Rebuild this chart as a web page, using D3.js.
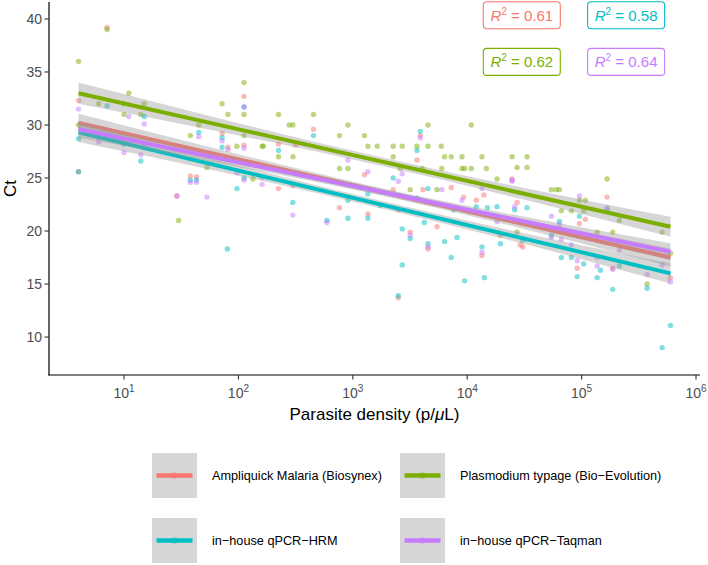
<!DOCTYPE html>
<html>
<head>
<meta charset="utf-8">
<script src="https://cdn.jsdelivr.net/npm/d3@7"></script>
<style>
  html, body { margin: 0; padding: 0; background: #fff; }
  svg { display: block; font-family: "Liberation Sans", Arial, Helvetica, sans-serif; }
</style>
</head>
<body>
<svg id="chart" width="708" height="565"></svg>
<script>
// ---------------- DATA ----------------
const seriesNames = ["Ampliquick Malaria (Biosynex)", "Plasmodium typage (Bio\u2212Evolution)", "in\u2212house qPCR\u2212HRM", "in\u2212house qPCR\u2212Taqman"];
const seriesColors = ["#F8766D", "#7CAE00", "#00BFC4", "#C77CFF"];
const r2Values = ["0.61", "0.62", "0.58", "0.64"];
const r2LabelX = [30000, 30000, 245000, 245000];
const r2LabelY = [40.35, 35.95, 40.35, 35.95];

// [parasite density (p/uL), Ct]
const ampliquickPts = [[4,32.3],[4,25.6],[7.1,39.2],[29,23.3],[38,25.2],[43,25.1],[72,29.2],[81,27.9],[112,32.7],[112,28.1],[224,28.2],[224,24.0],
  [300,24.3],[315,28.1],[453,29.6],[765,22.2],[1265,25.3],[1355,21.6],[2255,23.9],[2495,13.7],[2500,22.0],[3175,19.9],[3635,26.7],[3890,29.0],[4100,23.9],
  [4540,18.3],[5445,20.4],[7255,24.1],[9300,23.2],[12000,22.9],[13460,17.7],[14000,23.4],[19500,19.6],[24680,24.9],[27300,22.7],[29000,18.7],[30550,18.5],
  [91400,16.5],[95760,20.7],[107900,21.1],[167000,23.2],[187000,16.5],[598000,15.6]];
const plasmodiumPts = [[4,36.0],[4,30.0],[7.1,39.0],[6,32.0],[11,33.0],[10,32.0],[15,32.0],[10,31.0],[14,31.0],[30,21.0],[38,29.0],[45,30.0],[53,26.0],
  [72,32.0],[81,31.0],[97,28.0],[112,34.0],[112,31.0],[112,29.0],[134,24.9],[161,28.0],[165,28.0],[224,31.0],[224,27.0],[278,30.0],[299,30.0],[300,27.0],
  [453,31.0],[765,29.0],[765,25.9],[906,30.0],[906,25.9],[1265,29.0],[1355,28.0],[1635,28.0],[2255,28.0],[2255,27.0],[2600,25.9],[2705,28.0],[3175,23.9],
  [3635,28.0],[4050,25.9],[4540,30.0],[4540,28.0],[5445,23.9],[5935,28.0],[6000,25.9],[6345,27.0],[7255,27.0],[9000,27.0],[9000,25.9],[9490,25.9],
  [10860,30.0],[10860,25.9],[13460,27.0],[14700,25.9],[18230,24.9],[24680,27.0],[27300,26.0],[27300,19.9],[33360,27.0],[33360,26.0],[54450,23.9],
  [60000,23.9],[63970,23.9],[66550,21.9],[81430,21.9],[95760,22.9],[104300,21.9],[107900,22.9],[136700,19.9],[167000,24.9],[187000,19.9],[214000,21.0],
  [374000,15.0],[506000,19.9],[598000,17.9]];
const hrmPts = [[4,28.7],[4,25.6],[7.1,31.8],[6,28.9],[10,28.2],[14,26.6],[15,30.8],[38,24.8],[43,24.8],[45,29.3],[72,27.9],[72,28.8],[80,18.3],[97,24.0],
  [112,31.7],[112,25.0],[161,25.1],[224,27.6],[299,22.7],[453,29.0],[593,21.0],[906,21.2],[906,22.9],[1355,21.2],[1355,23.5],[1740,22.4],[2255,25.0],
  [2495,13.9],[2705,16.8],[2705,20.2],[3175,19.3],[3635,23.1],[3635,27.6],[3890,29.4],[4215,20.8],[4540,18.8],[4540,24.0],[6345,19.0],[7255,17.5],
  [7600,22.0],[8145,19.4],[9490,15.3],[12000,22.3],[13460,18.5],[14120,15.6],[15000,22.2],[18230,22.3],[19500,18.8],[26000,22.0],[30550,19.1],[33360,22.2],
  [54450,19.6],[63970,20.9],[66550,17.5],[81430,17.5],[91400,15.7],[95760,21.4],[104300,16.9],[136700,15.6],[146000,16.3],[167000,22.0],[187000,14.5],
  [214000,16.7],[374000,14.6],[506000,9.0],[598000,11.1]];
const taqmanPts = [[4,31.5],[6,28.4],[10,27.4],[11,30.8],[14,27.2],[15,30.1],[15,28.0],[29,23.3],[38,24.6],[43,24.6],[45,28.9],[53,23.2],[72,28.5],[81,27.7],
  [97,25.5],[112,31.7],[112,24.8],[112,27.8],[161,24.4],[299,21.5],[593,20.8],[906,26.7],[1355,25.6],[2500,24.7],[2700,25.4],[3175,19.6],[3890,28.8],
  [4540,18.5],[6000,23.9],[9000,22.9],[13460,18.0],[13460,24.0],[18230,20.9],[24680,24.7],[24680,24.8],[26000,22.3],[54450,21.4],[54450,19.4],[63970,20.6],
  [66550,19.2],[81430,18.7],[91400,17.2],[95760,23.3],[136700,17.5],[136700,16.7],[167000,22.2],[187000,16.4],[214000,18.2],[374000,15.9],[506000,16.8],[598000,15.2]];
const seriesPoints = [ampliquickPts, plasmodiumPts, hrmPts, taqmanPts];

// fitted regression lines (Ct at lowest / highest density)
const fitDensityRange = [4, 598000];
const fitStartCt = [30.2, 33.0, 29.3, 29.6];
const fitEndCt = [17.5, 20.4, 16.0, 18.05];
// confidence band half-widths (Ct units) at these densities
const bandDensities = [4, 80, 1550, 30000, 598000];
const bandHalfWidth = [
  [0.85, 0.5, 0.33, 0.45, 0.85],
  [1.0, 0.6, 0.4, 0.55, 0.95],
  [0.9, 0.5, 0.35, 0.5, 0.95],
  [0.8, 0.45, 0.3, 0.45, 0.8]
];

const yTicks = [10, 15, 20, 25, 30, 35, 40];
const xTicks = [1e1, 1e2, 1e3, 1e4, 1e5, 1e6];
const xTickExponents = ["1", "2", "3", "4", "5", "6"];
const xTitle = "Parasite density (p/";
const yTitle = "Ct";

// ---------------- LAYOUT ----------------
const svg = d3.select("#chart");
const panel = { left: 49, right: 700, top: 2, bottom: 375 };
const x = d3.scaleLog().domain([Math.pow(10, 0.344), Math.pow(10, 6.035)]).range([panel.left, panel.right]);
const y = d3.scaleLinear().domain([6.42, 41.6]).range([panel.bottom, panel.top]);

const gPanel = svg.append("g");

// points
const allPts = [];
seriesPoints.forEach((pts, i) => pts.forEach(p => allPts.push({ d: p[0], ct: p[1], s: i })));
gPanel.selectAll("circle.pt").data(allPts).enter().append("circle")
  .attr("class", "pt")
  .attr("cx", d => x(d.d)).attr("cy", d => y(d.ct)).attr("r", 2.7)
  .attr("fill", d => seriesColors[d.s]).attr("fill-opacity", 0.5);

// ribbons + lines
const lx0 = Math.log10(fitDensityRange[0]), lx1 = Math.log10(fitDensityRange[1]);
seriesNames.forEach((name, i) => {
  const centre = dd => fitStartCt[i] + (Math.log10(dd) - lx0) / (lx1 - lx0) * (fitEndCt[i] - fitStartCt[i]);
  const band = bandDensities.map((dd, k) => ({ d: dd, lo: centre(dd) - bandHalfWidth[i][k], hi: centre(dd) + bandHalfWidth[i][k] }));
  const area = d3.area().x(d => x(d.d)).y0(d => y(d.lo)).y1(d => y(d.hi)).curve(d3.curveMonotoneX);
  gPanel.append("path").datum(band).attr("d", area).attr("fill", "#999999").attr("fill-opacity", 0.4);
  const line = d3.line().x(d => x(d)).y(d => y(centre(d)));
  gPanel.append("path").datum(fitDensityRange).attr("d", line)
    .attr("stroke", seriesColors[i]).attr("stroke-width", 4).attr("fill", "none");
});

// R2 labels
seriesNames.forEach((name, i) => {
  const cx = x(r2LabelX[i]), cy = y(r2LabelY[i]);
  const g = svg.append("g").attr("transform", `translate(${cx},${cy})`);
  const w = 77, h = 27;
  g.append("rect").attr("x", -w / 2).attr("y", -h / 2).attr("width", w).attr("height", h)
    .attr("rx", 3.5).attr("fill", "#fff").attr("stroke", seriesColors[i]).attr("stroke-width", 1.1);
  const t = g.append("text").attr("text-anchor", "middle").attr("y", 5.5).attr("font-size", 15).attr("fill", seriesColors[i]);
  t.append("tspan").attr("font-style", "italic").text("R");
  t.append("tspan").attr("font-size", 10).attr("dy", -6).text("2");
  t.append("tspan").attr("dy", 6).text(" = " + r2Values[i]);
});

// axes
const axisCol = "#000";
svg.append("line").attr("x1", panel.left).attr("x2", panel.left).attr("y1", panel.top).attr("y2", panel.bottom + 0.5)
  .attr("stroke", axisCol).attr("stroke-width", 1.2);
svg.append("line").attr("x1", panel.left - 0.5).attr("x2", panel.right).attr("y1", panel.bottom).attr("y2", panel.bottom)
  .attr("stroke", axisCol).attr("stroke-width", 1.2);

const yt = svg.append("g").selectAll("g").data(yTicks).enter().append("g")
  .attr("transform", d => `translate(0,${y(d)})`);
yt.append("line").attr("x1", panel.left - 4.5).attr("x2", panel.left).attr("stroke", "#333").attr("stroke-width", 1.1);
yt.append("text").attr("x", panel.left - 7).attr("dy", "0.35em").attr("text-anchor", "end")
  .attr("font-size", 14).attr("fill", "#4d4d4d").text(d => d);

const xt = svg.append("g").selectAll("g").data(xTicks).enter().append("g")
  .attr("transform", d => `translate(${x(d)},0)`);
xt.append("line").attr("y1", panel.bottom).attr("y2", panel.bottom + 4.5).attr("stroke", "#333").attr("stroke-width", 1.1);
const xtText = xt.append("text").attr("y", panel.bottom + 23).attr("text-anchor", "middle")
  .attr("font-size", 14).attr("fill", "#4d4d4d");
xtText.append("tspan").text("10");
xtText.append("tspan").attr("font-size", 10).attr("dy", -6).text((d, i) => xTickExponents[i]);

// axis titles
const xTitleText = svg.append("text").attr("x", (panel.left + panel.right) / 2).attr("y", 420)
  .attr("text-anchor", "middle").attr("font-size", 17).attr("fill", "#000");
xTitleText.append("tspan").text(xTitle);
xTitleText.append("tspan").attr("font-style", "italic").text("\u03BC");
xTitleText.append("tspan").text("L)");

svg.append("text").attr("transform", `translate(16,${(panel.top + panel.bottom) / 2}) rotate(-90)`)
  .attr("text-anchor", "middle").attr("font-size", 17).attr("fill", "#000").text(yTitle);

// legend
const legendPos = [
  { kx: 152, ky: 453 }, { kx: 400, ky: 453 },
  { kx: 152, ky: 518 }, { kx: 400, ky: 518 }
];
const key = 45;
seriesNames.forEach((name, i) => {
  const p = legendPos[i];
  const g = svg.append("g").attr("transform", `translate(${p.kx},${p.ky})`);
  g.append("rect").attr("width", key).attr("height", key).attr("fill", "#999999").attr("fill-opacity", 0.4);
  g.append("circle").attr("cx", key / 2).attr("cy", key / 2).attr("r", 3.2).attr("fill", seriesColors[i]).attr("fill-opacity", 0.5);
  g.append("line").attr("x1", key * 0.1).attr("x2", key * 0.9).attr("y1", key / 2).attr("y2", key / 2)
    .attr("stroke", seriesColors[i]).attr("stroke-width", 4.5);
  g.append("text").attr("x", key + 15).attr("y", key / 2).attr("dy", "0.35em")
    .attr("font-size", 12.7).attr("fill", "#000").text(name);
});
</script>
</body>
</html>
